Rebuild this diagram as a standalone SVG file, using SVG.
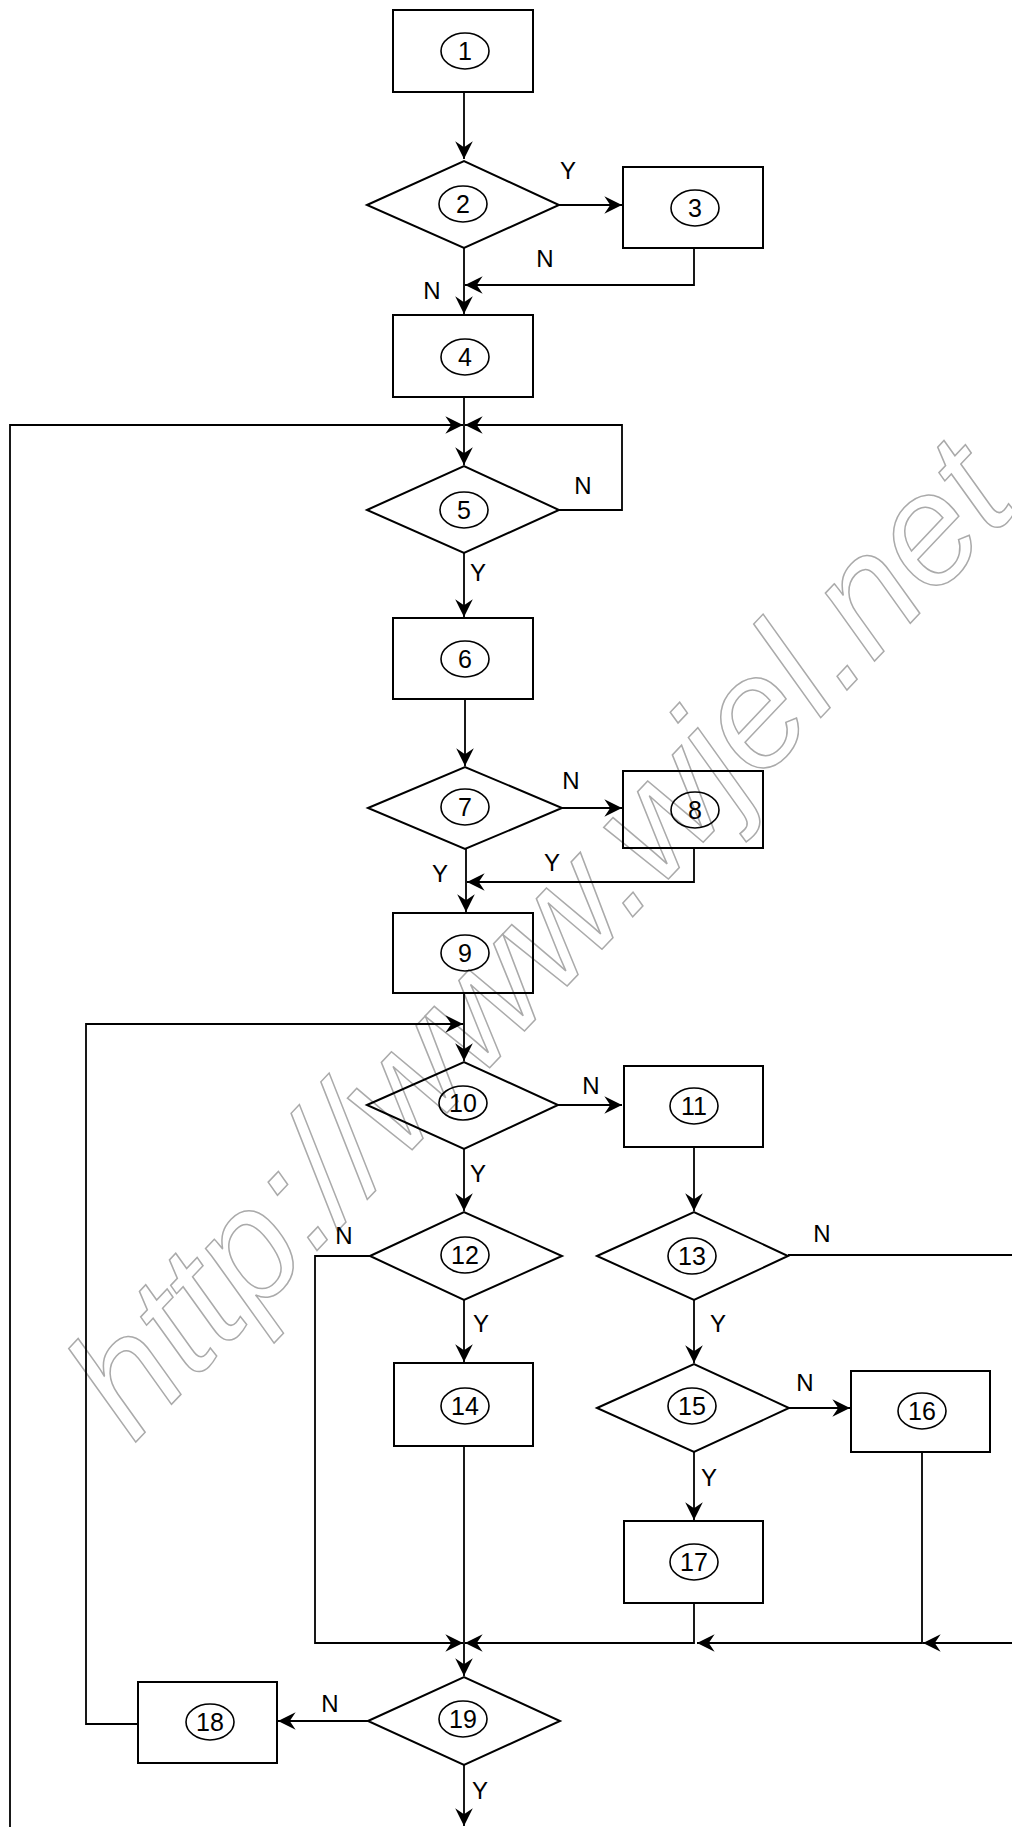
<svg xmlns="http://www.w3.org/2000/svg" width="1012" height="1827" viewBox="0 0 1012 1827">
<style>
.n{fill:none;stroke:#000;stroke-width:2}
.e{fill:none;stroke:#000;stroke-width:1.6}
.t{font-family:"Liberation Sans",Arial,sans-serif;font-size:24px;fill:#000;text-anchor:middle}
.d{font-size:25px}
.c{fill:none;stroke:#000;stroke-width:1.8}
.wm{font-family:"Liberation Sans",Arial,sans-serif;font-style:italic;font-size:156px;fill:none;stroke:#aaaaaa;stroke-width:1.5}
</style>
<defs>
<marker id="a" markerUnits="userSpaceOnUse" markerWidth="20" markerHeight="20" viewBox="-16 -8 17 16" refX="0" refY="0" orient="auto">
<path d="M0,0 L-15,-7.5 L-10,0 L-15,7.5 Z" fill="#000"/>
</marker>
</defs>
<rect width="1012" height="1827" fill="#fff"/>
<g id="watermark">
<text class="wm" transform="translate(134,1444) rotate(-46.6)">http://www.wjel.net</text>
</g>
<g id="connectors">
<path class="c" d="M464,92V159" marker-end="url(#a)"/>
<path class="c" d="M559,205H622" marker-end="url(#a)"/>
<path class="c" d="M694,248V285H465" marker-end="url(#a)"/>
<path class="c" d="M464,248V314" marker-end="url(#a)"/>
<path class="c" d="M464,397V465" marker-end="url(#a)"/>
<path class="c" d="M10,1827V425H463" marker-end="url(#a)"/>
<path class="c" d="M559,510H622V425H465" marker-end="url(#a)"/>
<path class="c" d="M464,553V617" marker-end="url(#a)"/>
<path class="c" d="M465,699V766" marker-end="url(#a)"/>
<path class="c" d="M562,808H622" marker-end="url(#a)"/>
<path class="c" d="M694,848V882H467" marker-end="url(#a)"/>
<path class="c" d="M466,849V912" marker-end="url(#a)"/>
<path class="c" d="M464,993V1061" marker-end="url(#a)"/>
<path class="c" d="M138,1724H86V1024H463" marker-end="url(#a)"/>
<path class="c" d="M558,1105H622" marker-end="url(#a)"/>
<path class="c" d="M464,1149V1211" marker-end="url(#a)"/>
<path class="c" d="M694,1147V1211" marker-end="url(#a)"/>
<path class="c" d="M370,1256H315V1643H463" marker-end="url(#a)"/>
<path class="c" d="M788,1255H1012"/>
<path class="c" d="M1012,1643H923" marker-end="url(#a)"/>
<path class="c" d="M464,1300V1362" marker-end="url(#a)"/>
<path class="c" d="M694,1300V1363" marker-end="url(#a)"/>
<path class="c" d="M789,1408H850" marker-end="url(#a)"/>
<path class="c" d="M694,1452V1520" marker-end="url(#a)"/>
<path class="c" d="M464,1446V1676" marker-end="url(#a)"/>
<path class="c" d="M694,1603V1643H465" marker-end="url(#a)"/>
<path class="c" d="M922,1452V1643H697" marker-end="url(#a)"/>
<path class="c" d="M368,1721H278" marker-end="url(#a)"/>
<path class="c" d="M464,1765V1826" marker-end="url(#a)"/>
<text class="t" x="568" y="179">Y</text>
<text class="t" x="545" y="267">N</text>
<text class="t" x="432" y="299">N</text>
<text class="t" x="583" y="494">N</text>
<text class="t" x="478" y="581">Y</text>
<text class="t" x="571" y="789">N</text>
<text class="t" x="552" y="871">Y</text>
<text class="t" x="440" y="882">Y</text>
<text class="t" x="591" y="1094">N</text>
<text class="t" x="478" y="1182">Y</text>
<text class="t" x="344" y="1244">N</text>
<text class="t" x="822" y="1242">N</text>
<text class="t" x="481" y="1332">Y</text>
<text class="t" x="718" y="1332">Y</text>
<text class="t" x="805" y="1391">N</text>
<text class="t" x="709" y="1486">Y</text>
<text class="t" x="330" y="1712">N</text>
<text class="t" x="480" y="1799">Y</text>
</g>
<g id="n1"><rect class="n" x="393" y="10" width="140" height="82"/><ellipse class="e" cx="465" cy="51" rx="24" ry="18"/><text class="t d" x="465" y="60">1</text></g>
<g id="n2"><polygon class="n" points="367,205 464,161 559,205 464,248"/><ellipse class="e" cx="463" cy="204" rx="24" ry="18"/><text class="t d" x="463" y="213">2</text></g>
<g id="n3"><rect class="n" x="623" y="167" width="140" height="81"/><ellipse class="e" cx="695" cy="208" rx="24" ry="18"/><text class="t d" x="695" y="217">3</text></g>
<g id="n4"><rect class="n" x="393" y="315" width="140" height="82"/><ellipse class="e" cx="465" cy="357" rx="24" ry="18"/><text class="t d" x="465" y="366">4</text></g>
<g id="n5"><polygon class="n" points="367,510 464,466 559,510 464,553"/><ellipse class="e" cx="464" cy="510" rx="24" ry="18"/><text class="t d" x="464" y="519">5</text></g>
<g id="n6"><rect class="n" x="393" y="618" width="140" height="81"/><ellipse class="e" cx="465" cy="659" rx="24" ry="18"/><text class="t d" x="465" y="668">6</text></g>
<g id="n7"><polygon class="n" points="368,808 465,767 562,808 465,849"/><ellipse class="e" cx="465" cy="807" rx="24" ry="18"/><text class="t d" x="465" y="816">7</text></g>
<g id="n8"><rect class="n" x="623" y="771" width="140" height="77"/><ellipse class="e" cx="695" cy="810" rx="24" ry="18"/><text class="t d" x="695" y="819">8</text></g>
<g id="n9"><rect class="n" x="393" y="913" width="140" height="80"/><ellipse class="e" cx="465" cy="953" rx="24" ry="18"/><text class="t d" x="465" y="962">9</text></g>
<g id="n10"><polygon class="n" points="367,1105 464,1062 558,1105 464,1149"/><ellipse class="e" cx="463" cy="1103" rx="24" ry="17"/><text class="t d" x="463" y="1112">10</text></g>
<g id="n11"><rect class="n" x="624" y="1066" width="139" height="81"/><ellipse class="e" cx="694" cy="1106" rx="24" ry="18"/><text class="t d" x="694" y="1115">11</text></g>
<g id="n12"><polygon class="n" points="370,1256 464,1212 562,1256 464,1300"/><ellipse class="e" cx="465" cy="1255" rx="24" ry="18"/><text class="t d" x="465" y="1264">12</text></g>
<g id="n13"><polygon class="n" points="597,1256 694,1212 788,1256 694,1300"/><ellipse class="e" cx="692" cy="1256" rx="24" ry="18"/><text class="t d" x="692" y="1265">13</text></g>
<g id="n14"><rect class="n" x="394" y="1363" width="139" height="83"/><ellipse class="e" cx="465" cy="1406" rx="24" ry="18"/><text class="t d" x="465" y="1415">14</text></g>
<g id="n15"><polygon class="n" points="597,1408 694,1364 789,1408 694,1452"/><ellipse class="e" cx="692" cy="1406" rx="24" ry="18"/><text class="t d" x="692" y="1415">15</text></g>
<g id="n16"><rect class="n" x="851" y="1371" width="139" height="81"/><ellipse class="e" cx="922" cy="1411" rx="24" ry="18"/><text class="t d" x="922" y="1420">16</text></g>
<g id="n17"><rect class="n" x="624" y="1521" width="139" height="82"/><ellipse class="e" cx="694" cy="1562" rx="24" ry="18"/><text class="t d" x="694" y="1571">17</text></g>
<g id="n18"><rect class="n" x="138" y="1682" width="139" height="81"/><ellipse class="e" cx="210" cy="1722" rx="24" ry="18"/><text class="t d" x="210" y="1731">18</text></g>
<g id="n19"><polygon class="n" points="368,1721 464,1677 560,1721 464,1765"/><ellipse class="e" cx="463" cy="1719" rx="24" ry="18"/><text class="t d" x="463" y="1728">19</text></g>
</svg>
